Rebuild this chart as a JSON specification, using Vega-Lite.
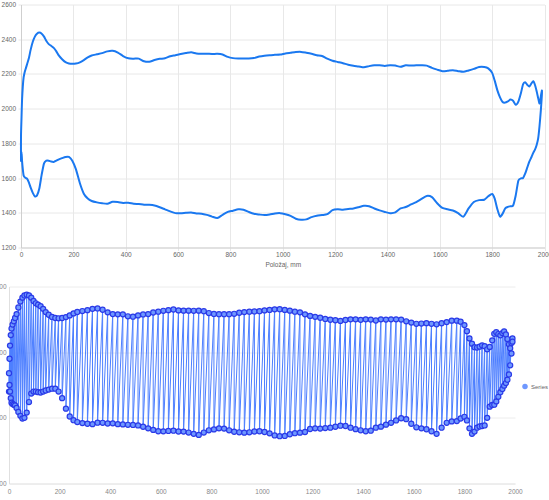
{
"$schema": "https://vega.github.io/schema/vega-lite/v6.json",
"autosize": {"type": "pad"},
"padding": {"left": -9, "top": 1.5, "right": 0, "bottom": 0},
"spacing": 16,
"config": {"font": "Liberation Sans", "view": {"stroke": null},
  "axis": {"format": "d", "labelFontSize": 6.5, "labelColor": "#666", "titleFontSize": 6.5, "titleFontWeight": "normal", "titleColor": "#666", "gridColor": "#e8e8e8", "domainColor": "#d0d0d0", "tickColor": "#e8e8e8"}},
"datasets": {"profile": [
{"x":0,"y":1840,"s":"u","o":0},{"x":2,"y":1950,"s":"u","o":2},{"x":4,"y":2050,"s":"u","o":4},{"x":7,"y":2130,"s":"u","o":7},{"x":10,"y":2180,"s":"u","o":10},{"x":14,"y":2210,"s":"u","o":14},{"x":19,"y":2235,"s":"u","o":19},{"x":24,"y":2260,"s":"u","o":24},{"x":30,"y":2290,"s":"u","o":30},{"x":37,"y":2340,"s":"u","o":37},{"x":45,"y":2385,"s":"u","o":45},{"x":53,"y":2415,"s":"u","o":53},{"x":61,"y":2432,"s":"u","o":61},{"x":70,"y":2438,"s":"u","o":70},{"x":79,"y":2432,"s":"u","o":79},{"x":88,"y":2415,"s":"u","o":88},{"x":97,"y":2390,"s":"u","o":97},{"x":106,"y":2372,"s":"u","o":106},{"x":115,"y":2362,"s":"u","o":115},{"x":125,"y":2350,"s":"u","o":125},{"x":135,"y":2330,"s":"u","o":135},{"x":145,"y":2305,"s":"u","o":145},{"x":157,"y":2285,"s":"u","o":157},{"x":170,"y":2268,"s":"u","o":170},{"x":183,"y":2260,"s":"u","o":183},{"x":196,"y":2258,"s":"u","o":196},{"x":210,"y":2260,"s":"u","o":210},{"x":225,"y":2267,"s":"u","o":225},{"x":240,"y":2280,"s":"u","o":240},{"x":255,"y":2295,"s":"u","o":255},{"x":270,"y":2306,"s":"u","o":270},{"x":290,"y":2313,"s":"u","o":290},{"x":310,"y":2320,"s":"u","o":310},{"x":330,"y":2330,"s":"u","o":330},{"x":350,"y":2333,"s":"u","o":350},{"x":370,"y":2323,"s":"u","o":370},{"x":390,"y":2303,"s":"u","o":390},{"x":410,"y":2290,"s":"u","o":410},{"x":430,"y":2288,"s":"u","o":430},{"x":450,"y":2288,"s":"u","o":450},{"x":470,"y":2273,"s":"u","o":470},{"x":490,"y":2270,"s":"u","o":490},{"x":510,"y":2280,"s":"u","o":510},{"x":530,"y":2287,"s":"u","o":530},{"x":550,"y":2290,"s":"u","o":550},{"x":570,"y":2302,"s":"u","o":570},{"x":590,"y":2308,"s":"u","o":590},{"x":610,"y":2315,"s":"u","o":610},{"x":630,"y":2320,"s":"u","o":630},{"x":650,"y":2325,"s":"u","o":650},{"x":670,"y":2318,"s":"u","o":670},{"x":690,"y":2316,"s":"u","o":690},{"x":710,"y":2316,"s":"u","o":710},{"x":730,"y":2315,"s":"u","o":730},{"x":750,"y":2316,"s":"u","o":750},{"x":770,"y":2312,"s":"u","o":770},{"x":790,"y":2298,"s":"u","o":790},{"x":810,"y":2291,"s":"u","o":810},{"x":830,"y":2289,"s":"u","o":830},{"x":850,"y":2289,"s":"u","o":850},{"x":870,"y":2289,"s":"u","o":870},{"x":890,"y":2292,"s":"u","o":890},{"x":910,"y":2300,"s":"u","o":910},{"x":930,"y":2305,"s":"u","o":930},{"x":950,"y":2308,"s":"u","o":950},{"x":970,"y":2310,"s":"u","o":970},{"x":990,"y":2312,"s":"u","o":990},{"x":1010,"y":2318,"s":"u","o":1010},{"x":1030,"y":2322,"s":"u","o":1030},{"x":1050,"y":2326,"s":"u","o":1050},{"x":1070,"y":2327,"s":"u","o":1070},{"x":1090,"y":2322,"s":"u","o":1090},{"x":1110,"y":2316,"s":"u","o":1110},{"x":1130,"y":2308,"s":"u","o":1130},{"x":1150,"y":2303,"s":"u","o":1150},{"x":1170,"y":2288,"s":"u","o":1170},{"x":1190,"y":2276,"s":"u","o":1190},{"x":1210,"y":2269,"s":"u","o":1210},{"x":1230,"y":2262,"s":"u","o":1230},{"x":1250,"y":2253,"s":"u","o":1250},{"x":1270,"y":2247,"s":"u","o":1270},{"x":1290,"y":2243,"s":"u","o":1290},{"x":1310,"y":2238,"s":"u","o":1310},{"x":1330,"y":2245,"s":"u","o":1330},{"x":1350,"y":2250,"s":"u","o":1350},{"x":1370,"y":2250,"s":"u","o":1370},{"x":1390,"y":2246,"s":"u","o":1390},{"x":1410,"y":2250,"s":"u","o":1410},{"x":1430,"y":2248,"s":"u","o":1430},{"x":1450,"y":2241,"s":"u","o":1450},{"x":1470,"y":2250,"s":"u","o":1470},{"x":1490,"y":2248,"s":"u","o":1490},{"x":1510,"y":2250,"s":"u","o":1510},{"x":1530,"y":2250,"s":"u","o":1530},{"x":1550,"y":2248,"s":"u","o":1550},{"x":1570,"y":2235,"s":"u","o":1570},{"x":1590,"y":2225,"s":"u","o":1590},{"x":1610,"y":2216,"s":"u","o":1610},{"x":1630,"y":2218,"s":"u","o":1630},{"x":1650,"y":2221,"s":"u","o":1650},{"x":1670,"y":2216,"s":"u","o":1670},{"x":1690,"y":2212,"s":"u","o":1690},{"x":1710,"y":2220,"s":"u","o":1710},{"x":1730,"y":2229,"s":"u","o":1730},{"x":1750,"y":2240,"s":"u","o":1750},{"x":1770,"y":2240,"s":"u","o":1770},{"x":1785,"y":2232,"s":"u","o":1785},{"x":1800,"y":2206,"s":"u","o":1800},{"x":1810,"y":2160,"s":"u","o":1810},{"x":1820,"y":2105,"s":"u","o":1820},{"x":1830,"y":2065,"s":"u","o":1830},{"x":1840,"y":2038,"s":"u","o":1840},{"x":1850,"y":2035,"s":"u","o":1850},{"x":1860,"y":2042,"s":"u","o":1860},{"x":1870,"y":2052,"s":"u","o":1870},{"x":1880,"y":2045,"s":"u","o":1880},{"x":1890,"y":2022,"s":"u","o":1890},{"x":1900,"y":2040,"s":"u","o":1900},{"x":1910,"y":2090,"s":"u","o":1910},{"x":1918,"y":2140,"s":"u","o":1918},{"x":1926,"y":2152,"s":"u","o":1926},{"x":1934,"y":2138,"s":"u","o":1934},{"x":1942,"y":2128,"s":"u","o":1942},{"x":1950,"y":2145,"s":"u","o":1950},{"x":1957,"y":2158,"s":"u","o":1957},{"x":1964,"y":2135,"s":"u","o":1964},{"x":1970,"y":2100,"s":"u","o":1970},{"x":1976,"y":2060,"s":"u","o":1976},{"x":1981,"y":2030,"s":"u","o":1981},{"x":1986,"y":2070,"s":"u","o":1986},{"x":1990,"y":2105,"s":"u","o":1990},
{"x":0,"y":1700,"s":"l","o":4000},{"x":2,"y":1750,"s":"l","o":3998},{"x":4,"y":1700,"s":"l","o":3996},{"x":7,"y":1650,"s":"l","o":3993},{"x":10,"y":1615,"s":"l","o":3990},{"x":14,"y":1605,"s":"l","o":3986},{"x":19,"y":1600,"s":"l","o":3981},{"x":24,"y":1595,"s":"l","o":3976},{"x":30,"y":1575,"s":"l","o":3970},{"x":37,"y":1545,"s":"l","o":3963},{"x":45,"y":1515,"s":"l","o":3955},{"x":53,"y":1495,"s":"l","o":3947},{"x":61,"y":1500,"s":"l","o":3939},{"x":70,"y":1540,"s":"l","o":3930},{"x":79,"y":1620,"s":"l","o":3921},{"x":88,"y":1685,"s":"l","o":3912},{"x":97,"y":1700,"s":"l","o":3903},{"x":106,"y":1700,"s":"l","o":3894},{"x":115,"y":1695,"s":"l","o":3885},{"x":125,"y":1693,"s":"l","o":3875},{"x":135,"y":1700,"s":"l","o":3865},{"x":145,"y":1708,"s":"l","o":3855},{"x":157,"y":1715,"s":"l","o":3843},{"x":170,"y":1722,"s":"l","o":3830},{"x":183,"y":1722,"s":"l","o":3817},{"x":196,"y":1700,"s":"l","o":3804},{"x":210,"y":1650,"s":"l","o":3790},{"x":225,"y":1570,"s":"l","o":3775},{"x":240,"y":1510,"s":"l","o":3760},{"x":255,"y":1482,"s":"l","o":3745},{"x":270,"y":1468,"s":"l","o":3730},{"x":290,"y":1460,"s":"l","o":3710},{"x":310,"y":1455,"s":"l","o":3690},{"x":330,"y":1452,"s":"l","o":3670},{"x":350,"y":1463,"s":"l","o":3650},{"x":370,"y":1462,"s":"l","o":3630},{"x":390,"y":1457,"s":"l","o":3610},{"x":410,"y":1458,"s":"l","o":3590},{"x":430,"y":1452,"s":"l","o":3570},{"x":450,"y":1450,"s":"l","o":3550},{"x":470,"y":1447,"s":"l","o":3530},{"x":490,"y":1446,"s":"l","o":3510},{"x":510,"y":1442,"s":"l","o":3490},{"x":530,"y":1432,"s":"l","o":3470},{"x":550,"y":1420,"s":"l","o":3450},{"x":570,"y":1408,"s":"l","o":3430},{"x":590,"y":1398,"s":"l","o":3410},{"x":610,"y":1397,"s":"l","o":3390},{"x":630,"y":1400,"s":"l","o":3370},{"x":650,"y":1402,"s":"l","o":3350},{"x":670,"y":1396,"s":"l","o":3330},{"x":690,"y":1395,"s":"l","o":3310},{"x":710,"y":1388,"s":"l","o":3290},{"x":730,"y":1378,"s":"l","o":3270},{"x":750,"y":1370,"s":"l","o":3250},{"x":770,"y":1388,"s":"l","o":3230},{"x":790,"y":1405,"s":"l","o":3210},{"x":810,"y":1412,"s":"l","o":3190},{"x":830,"y":1420,"s":"l","o":3170},{"x":850,"y":1418,"s":"l","o":3150},{"x":870,"y":1405,"s":"l","o":3130},{"x":890,"y":1394,"s":"l","o":3110},{"x":910,"y":1390,"s":"l","o":3090},{"x":930,"y":1387,"s":"l","o":3070},{"x":950,"y":1390,"s":"l","o":3050},{"x":970,"y":1396,"s":"l","o":3030},{"x":990,"y":1398,"s":"l","o":3010},{"x":1010,"y":1392,"s":"l","o":2990},{"x":1030,"y":1382,"s":"l","o":2970},{"x":1050,"y":1366,"s":"l","o":2950},{"x":1070,"y":1360,"s":"l","o":2930},{"x":1090,"y":1362,"s":"l","o":2910},{"x":1110,"y":1375,"s":"l","o":2890},{"x":1130,"y":1383,"s":"l","o":2870},{"x":1150,"y":1387,"s":"l","o":2850},{"x":1170,"y":1392,"s":"l","o":2830},{"x":1190,"y":1415,"s":"l","o":2810},{"x":1210,"y":1420,"s":"l","o":2790},{"x":1230,"y":1418,"s":"l","o":2770},{"x":1250,"y":1422,"s":"l","o":2750},{"x":1270,"y":1425,"s":"l","o":2730},{"x":1290,"y":1432,"s":"l","o":2710},{"x":1310,"y":1440,"s":"l","o":2690},{"x":1330,"y":1438,"s":"l","o":2670},{"x":1350,"y":1425,"s":"l","o":2650},{"x":1370,"y":1414,"s":"l","o":2630},{"x":1390,"y":1405,"s":"l","o":2610},{"x":1410,"y":1398,"s":"l","o":2590},{"x":1430,"y":1402,"s":"l","o":2570},{"x":1450,"y":1425,"s":"l","o":2550},{"x":1470,"y":1433,"s":"l","o":2530},{"x":1490,"y":1448,"s":"l","o":2510},{"x":1510,"y":1462,"s":"l","o":2490},{"x":1530,"y":1480,"s":"l","o":2470},{"x":1550,"y":1497,"s":"l","o":2450},{"x":1570,"y":1490,"s":"l","o":2430},{"x":1590,"y":1455,"s":"l","o":2410},{"x":1610,"y":1428,"s":"l","o":2390},{"x":1630,"y":1420,"s":"l","o":2370},{"x":1650,"y":1413,"s":"l","o":2350},{"x":1670,"y":1398,"s":"l","o":2330},{"x":1690,"y":1378,"s":"l","o":2310},{"x":1710,"y":1425,"s":"l","o":2290},{"x":1730,"y":1462,"s":"l","o":2270},{"x":1750,"y":1473,"s":"l","o":2250},{"x":1770,"y":1475,"s":"l","o":2230},{"x":1785,"y":1495,"s":"l","o":2215},{"x":1800,"y":1508,"s":"l","o":2200},{"x":1810,"y":1480,"s":"l","o":2190},{"x":1820,"y":1420,"s":"l","o":2180},{"x":1830,"y":1378,"s":"l","o":2170},{"x":1840,"y":1395,"s":"l","o":2160},{"x":1850,"y":1425,"s":"l","o":2150},{"x":1860,"y":1434,"s":"l","o":2140},{"x":1870,"y":1438,"s":"l","o":2130},{"x":1880,"y":1442,"s":"l","o":2120},{"x":1890,"y":1500,"s":"l","o":2110},{"x":1900,"y":1585,"s":"l","o":2100},{"x":1910,"y":1598,"s":"l","o":2090},{"x":1918,"y":1600,"s":"l","o":2082},{"x":1926,"y":1625,"s":"l","o":2074},{"x":1934,"y":1660,"s":"l","o":2066},{"x":1942,"y":1695,"s":"l","o":2058},{"x":1950,"y":1720,"s":"l","o":2050},{"x":1957,"y":1745,"s":"l","o":2043},{"x":1964,"y":1765,"s":"l","o":2036},{"x":1970,"y":1790,"s":"l","o":2030},{"x":1976,"y":1830,"s":"l","o":2024},{"x":1981,"y":1900,"s":"l","o":2019},{"x":1986,"y":1990,"s":"l","o":2014},{"x":1990,"y":2080,"s":"l","o":2010}
]},
"vconcat": [
{
  "width": 536, "height": 243,
  "data": {"name": "profile"},
  "mark": {"type": "line", "interpolate": "cardinal-closed", "tension": 0.3, "color": "#1a78f0", "strokeWidth": 2},
  "encoding": {
    "x": {"field": "x", "type": "quantitative", "scale": {"domain": [0, 2000], "range": [12, 535.5], "nice": false, "zero": false},
      "axis": {"title": "Položaj, mm", "values": [0,200,400,600,800,1000,1200,1400,1600,1800,2000], "tickSize": 3, "labelPadding": 1, "titlePadding": 3, "domainColor": "#cfcfcf", "labelFlush": false}},
    "y": {"field": "y", "type": "quantitative", "scale": {"domain": [1200, 2600], "nice": false, "zero": false},
      "axis": {"title": null, "offset": -12, "values": [1200,1400,1600,1800,2000,2200,2400,2600], "tickSize": 3, "labelPadding": 2.5, "domainColor": "#cfcfcf"}},
    "order": {"field": "o", "type": "quantitative"}
  }
},
{
  "width": 506, "height": 197,
  "data": {"name": "profile"},
  "encoding": {
    "x": {"field": "x", "type": "quantitative", "scale": {"domain": [0, 2000], "nice": false, "zero": false},
      "axis": {"title": null, "values": [0,200,400,600,800,1000,1200,1400,1600,1800,2000], "ticks": false, "grid": false, "labelPadding": 5, "labelColor": "#888", "domainColor": "#e6e6e6", "labelFlush": false}},
    "y": {"field": "y", "type": "quantitative", "scale": {"domain": [1000, 2500], "nice": false, "zero": false},
      "axis": {"title": null, "values": [1000,1500,2000,2500], "ticks": false, "labelPadding": 3, "labelColor": "#888", "domainColor": "#e0e0e0", "gridColor": "#ececec"}}
  },
  "layer": [
    {"mark": {"type": "line", "color": "#4d7fff", "strokeWidth": 1},
     "encoding": {"order": [{"field": "x", "type": "quantitative"}, {"field": "s", "sort": "descending"}]}},
    {"mark": {"type": "point", "filled": true, "size": 26, "stroke": "#2a3ae8", "strokeWidth": 1.2, "opacity": 1},
     "encoding": {"color": {"datum": "Series", "type": "nominal", "scale": {"range": ["#6f98ff"]},
       "legend": {"title": null, "orient": "none", "legendX": 513, "legendY": 379, "padding": 0, "labelFontSize": 6, "labelColor": "#666", "symbolType": "circle", "symbolSize": 30, "symbolStrokeWidth": 0, "symbolFillColor": "#4f80f5", "labelOffset": 3}}}}
  ]
}
]
}
